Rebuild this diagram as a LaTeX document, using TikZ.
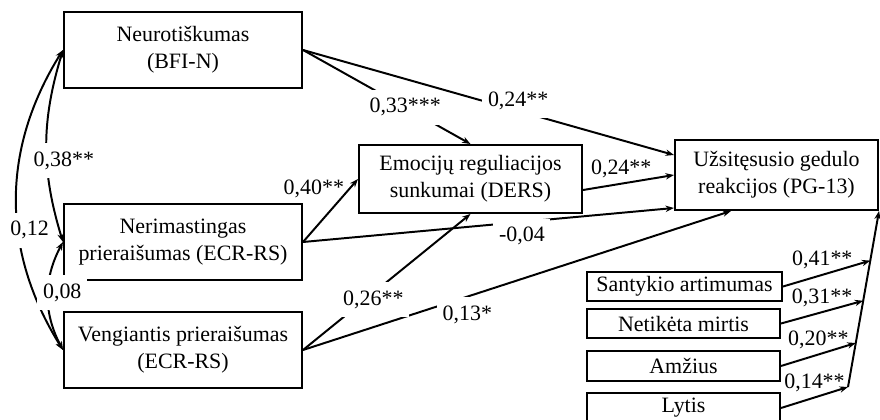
\documentclass[tikz,border=0pt]{standalone}
\usepackage{fontspec}
\setmainfont{Liberation Serif}
\usetikzlibrary{calc,arrows.meta}
\begin{document}
\begin{tikzpicture}[x=0.025cm,y=0.025cm,>={Stealth[length=6pt,width=4.5pt]},line width=1.4pt,
    font=\fontsize{15.6}{19.2}\selectfont,
    box/.style={draw,align=center,inner sep=1pt},
    coef/.style={fill=white,inner xsep=4pt,inner ysep=6pt}]
  \useasboundingbox (0,0) rectangle (880,420);
  % kintamieji
  \node[box,minimum width=5.95cm,minimum height=1.9cm] (neuro) at (183,370) {Neurotiškumas\\(BFI-N)};
  \node[box,minimum width=5.95cm,minimum height=1.9cm] (nerim) at (183,178) {Nerimastingas\\prieraišumas (ECR-RS)};
  \node[box,minimum width=5.95cm,minimum height=1.9cm] (veng) at (183,70) {Vengiantis prieraišumas\\(ECR-RS)};
  \node[box,minimum width=5.575cm,minimum height=1.7cm] (ders) at (470.5,241) {Emocijų reguliacijos\\sunkumai (DERS)};
  \node[box,minimum width=5.075cm,minimum height=1.75cm] (pg) at (776.5,245) {Užsitęsusio gedulo\\reakcijos (PG-13)};
  \node[box,minimum width=4.875cm,minimum height=0.725cm] (sant) at (684.5,133.5) {Santykio artimumas};
  \node[box,minimum width=4.825cm,minimum height=0.725cm] (netik) at (683.5,96.5) {Netikėta mirtis};
  \node[box,minimum width=4.825cm,minimum height=0.75cm] (amz) at (683.5,54) {Amžius};
  \node[box,minimum width=4.825cm,minimum height=0.75cm] (lytis) at (683.5,12) {Lytis};
  % kovariacijos
  \draw[<->] (neuro.west) to[out=253,in=107] node[coef,pos=0.58,xshift=12pt] (k1) {0,38**} (nerim.west);
  \draw[<->] (neuro.west) to[out=238,in=122] node[coef,pos=0.6,xshift=8pt] (k2) {0,12} (veng.west);
  \draw[<->] (nerim.west) to[out=242,in=118] node[coef,pos=0.47,xshift=10pt] (k3) {0,08} (veng.west);
  % keliai
  \draw[->] (neuro.east) -- node[coef,pos=0.61] (b1) {0,33***} (ders.north);
  \draw[->] (neuro.east) -- node[coef,pos=0.58,yshift=7pt] (b2) {0,24**} ([yshift=0.5cm]pg.west);
  \draw[->] ([yshift=-0.275cm]ders.east) -- node[above,pos=0.42] (b3) {0,24**} (pg.west);
  \draw[->] (nerim.east) -- node[left,pos=0.85] (b4) {0,40**} (ders.west);
  \draw[->] (nerim.east) -- node[coef,pos=0.59,yshift=-10pt] (b5) {-0,04} ([yshift=0.075cm]pg.south west);
  \draw[->] (veng.east) -- node[coef,pos=0.384,yshift=-13pt] (b6) {0,13*} ([xshift=1.425cm]pg.south west);
  \draw[->] (veng.east) -- node[coef,pos=0.42,yshift=-5pt] (b7) {0,26**} (ders.south);
  % kontroliniai
  \coordinate (base) at (848,33);
  \draw[->] (base) -- (pg.south east);
  \draw[->] (sant.east) -- node[above,pos=0.45] (c1) {0,41**} ($(base)!0.718!(pg.south east)$);
  \draw[->] (netik.east) -- node[above,pos=0.5] (c2) {0,31**} ($(base)!0.49!(pg.south east)$);
  \draw[->] (amz.east) -- node[above,pos=0.5] (c3) {0,20**} ($(base)!0.25!(pg.south east)$);
  \draw[->] (lytis.east) -- node[above,pos=0.5] (c4) {0,14**} (base);
\end{tikzpicture}
\end{document}
